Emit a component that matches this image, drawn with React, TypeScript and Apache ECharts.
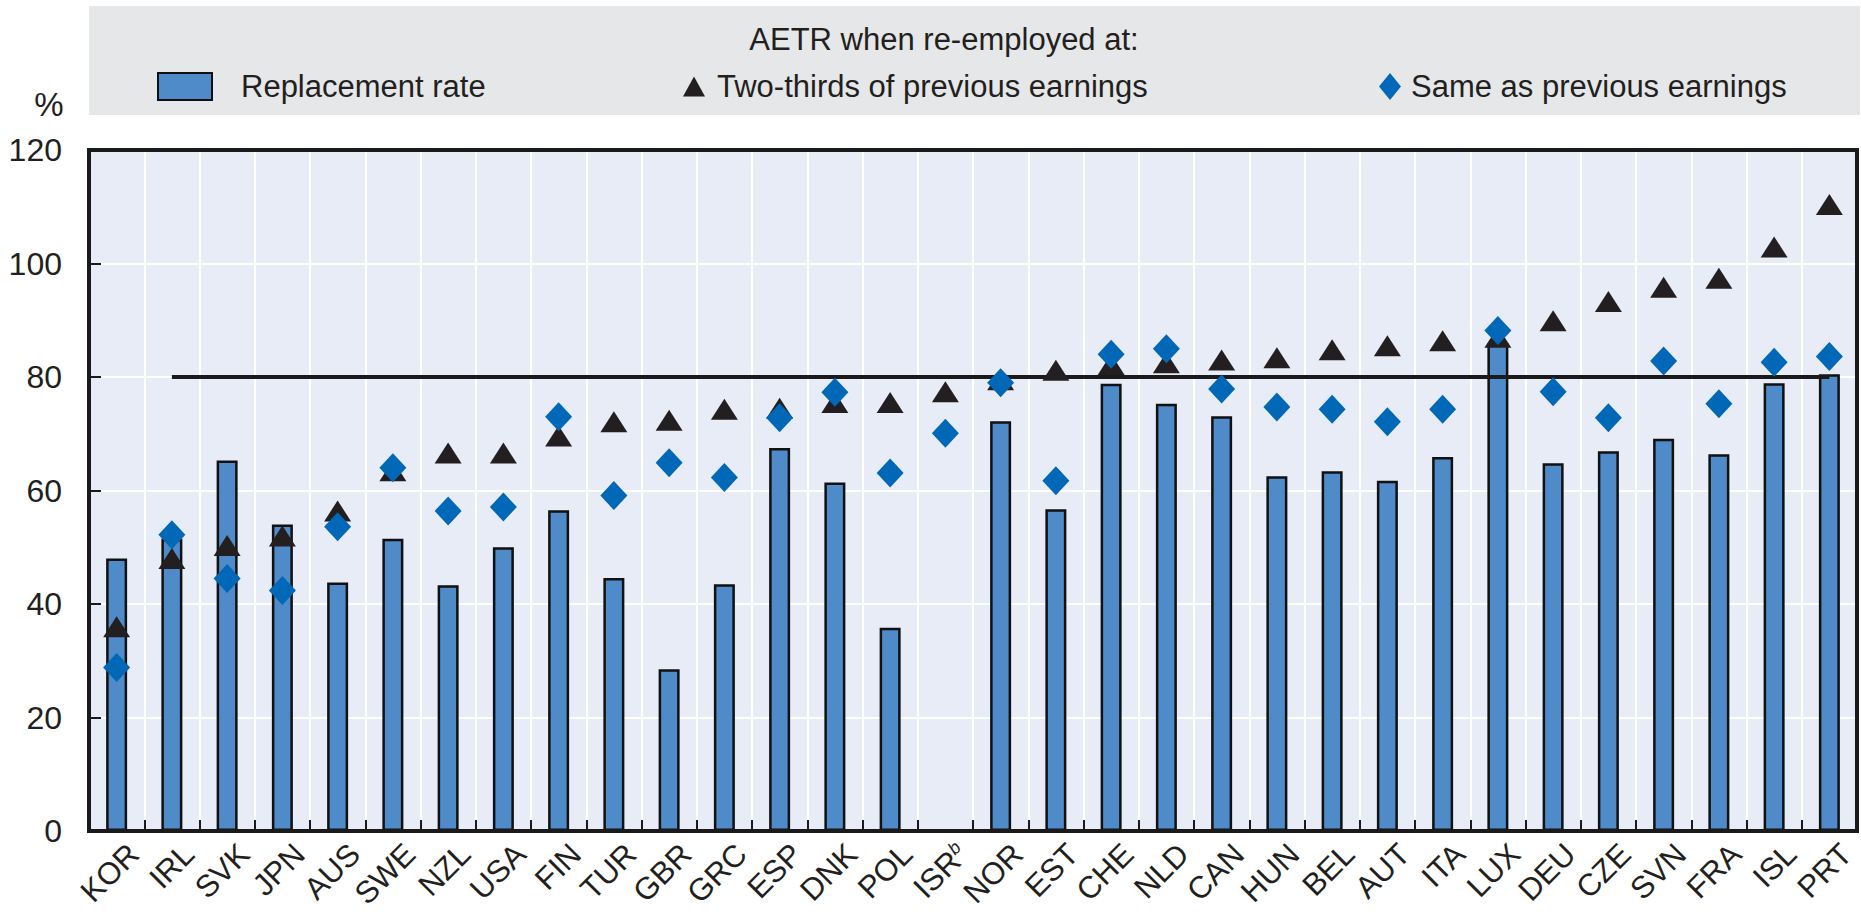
import React, { useEffect, useRef } from "react";
import * as echarts from "echarts";

const categories = ["KOR","IRL","SVK","JPN","AUS","SWE","NZL","USA","FIN","TUR","GBR","GRC","ESP","DNK","POL","ISR","NOR","EST","CHE","NLD","CAN","HUN","BEL","AUT","ITA","LUX","DEU","CZE","SVN","FRA","ISL","PRT"];

const replacementRate = [48, 51.5, 65.3, 54, 43.8, 51.5, 43.3, 50, 56.5, 44.6, 28.5, 43.5, 67.5, 61.4, 35.8, null, 72.2, 56.7, 78.8, 75.3, 73.1, 62.5, 63.4, 61.7, 65.9, 86, 64.8, 66.9, 69.1, 66.4, 78.9, 80.5];

const twoThirds = [36, 48, 50.3, 52, 56.4, 63.5, 66.6, 66.6, 69.6, 72.1, 72.4, 74.3, 74.5, 75.5, 75.5, 77.4, 79.5, 81.2, 82.2, 82.5, 83, 83.4, 84.8, 85.5, 86.4, 87, 89.9, 93.3, 95.8, 97.4, 102.9, 110.4];

const sameAsPrevious = [28.8, 52.2, 44.5, 42.4, 53.6, 64, 56.4, 57.1, 73, 59.1, 64.9, 62.3, 72.8, 77.3, 63.1, 70.1, 79, 61.7, 84, 85, 77.9, 74.7, 74.3, 72.1, 74.3, 88.2, 77.4, 72.8, 82.8, 75.3, 82.6, 83.6];

const referenceLine = [null, 80, 80, 80, 80, 80, 80, 80, 80, 80, 80, 80, 80, 80, 80, 80, 80, 80, 80, 80, 80, 80, 80, 80, 80, 80, 80, 80, 80, 80, 80, 80];

const yTicks = { min: 0, max: 120, interval: 20 };

const legendTitle = "AETR when re-employed at:";
const seriesNames = ["Replacement rate", "Two-thirds of previous earnings", "Same as previous earnings"];

const TEXT = "#231f20";
const FONT = '"Liberation Sans Narrow", "Liberation Sans", Arial, sans-serif';

export default function App() {
  const ref = useRef<HTMLDivElement>(null);
  useEffect(() => {
    if (!ref.current) return;
    const chart = echarts.init(ref.current, null, { renderer: "svg" });
    const legendText = { color: TEXT, fontFamily: FONT, fontSize: 31 };
    chart.setOption({
      animation: false,
      backgroundColor: "#ffffff",
      graphic: [
        { type: "rect", z: -10, shape: { x: 89, y: 6, width: 1771, height: 109 }, style: { fill: "#e6e7e9" } },
        { type: "text", x: 944, y: 39, style: { text: legendTitle, fill: TEXT, fontFamily: FONT, fontSize: 31, align: "center", verticalAlign: "middle" } },
        { type: "text", x: 49, y: 104, style: { text: "%", fill: TEXT, fontFamily: FONT, fontSize: 33, align: "center", verticalAlign: "middle" } },
        { type: "rect", z: 100, shape: { x: 89, y: 150, width: 1768, height: 681 }, style: { fill: "none", stroke: "#1a1a1a", lineWidth: 4 } },
      ],
      legend: [
        { left: 157, top: 71, padding: 0, itemWidth: 54, itemHeight: 27, selectedMode: false, textStyle: { ...legendText, padding: [0, 0, 0, 24] }, data: [{ name: seriesNames[0], icon: "rect" }] },
        { left: 683, top: 71, padding: 0, itemWidth: 22, itemHeight: 20, selectedMode: false, textStyle: { ...legendText, padding: [0, 0, 0, 7] }, data: [{ name: seriesNames[1], icon: "triangle" }] },
        { left: 1379, top: 71, padding: 0, itemWidth: 22, itemHeight: 27, selectedMode: false, textStyle: { ...legendText, padding: [0, 0, 0, 5] }, data: [{ name: seriesNames[2], icon: "diamond" }] },
      ],
      grid: [
        {
          left: 89, top: 150, width: 1768, height: 681,
          show: true, backgroundColor: "#e8ecf7", borderWidth: 0,
          containLabel: false, outerBoundsMode: "none",
        },
        {
          left: 106, top: 150, width: 1768, height: 681,
          show: false, containLabel: false, outerBoundsMode: "none",
        },
      ],
      xAxis: [
        {
          type: "category",
          gridIndex: 0,
          data: categories,
          boundaryGap: true,
          axisLine: { show: true, lineStyle: { color: "#1a1a1a", width: 4 } },
          axisTick: { show: true, inside: true, length: 11, interval: 0, lineStyle: { color: "#1a1a1a", width: 2 } },
          splitLine: { show: true, interval: 0, lineStyle: { color: "#ffffff", width: 2 } },
          axisLabel: { show: false },
        },
        {
          type: "category",
          gridIndex: 1,
          data: categories,
          boundaryGap: true,
          axisLine: { show: false },
          axisTick: { show: false },
          splitLine: { show: false },
          axisLabel: {
            interval: 0, rotate: 45, margin: 18, color: TEXT, fontFamily: FONT, fontSize: 31,
            formatter: (v: string) => (v === "ISR" ? "{n|ISR}{s|b}" : v),
            rich: {
              n: { fontFamily: FONT, fontSize: 31, color: TEXT },
              s: { fontFamily: FONT, fontSize: 18, color: TEXT, fontStyle: "italic", verticalAlign: "top" },
            },
          },
        },
      ],
      yAxis: [
        {
          type: "value",
          gridIndex: 0,
          min: yTicks.min, max: yTicks.max, interval: yTicks.interval,
          axisLine: { show: true, lineStyle: { color: "#1a1a1a", width: 4 } },
          axisTick: { show: true, inside: true, length: 12, lineStyle: { color: "#1a1a1a", width: 2 } },
          splitLine: { show: true, lineStyle: { color: "#ffffff", width: 2 } },
          axisLabel: { margin: 27, color: TEXT, fontFamily: FONT, fontSize: 32 },
        },
        {
          type: "value",
          gridIndex: 1,
          min: yTicks.min, max: yTicks.max, interval: yTicks.interval,
          show: false,
        },
      ],
      series: [
        {
          name: seriesNames[0], type: "bar", data: replacementRate, barWidth: 21, z: 2,
          itemStyle: { color: "#4f8ac9", borderColor: "#111111", borderWidth: 2.5 },
        },
        {
          name: "ref80", type: "line", data: referenceLine, symbol: "none", z: 3,
          lineStyle: { color: "#1a1a1a", width: 4 }, connectNulls: false,
        },
        {
          name: seriesNames[1], type: "scatter", data: twoThirds, symbol: "triangle", symbolSize: [27, 21], z: 4,
          itemStyle: { color: "#231f20", opacity: 1 },
        },
        {
          name: seriesNames[2], type: "scatter", data: sameAsPrevious, symbol: "diamond", symbolSize: [27, 29], z: 5,
          itemStyle: { color: "#0068b6", opacity: 1 },
        },
      ],
    });
    return () => chart.dispose();
  }, []);
  return <div ref={ref} style={{ position: "fixed", left: 0, top: 0, width: 1861, height: 912 }} />;
}
